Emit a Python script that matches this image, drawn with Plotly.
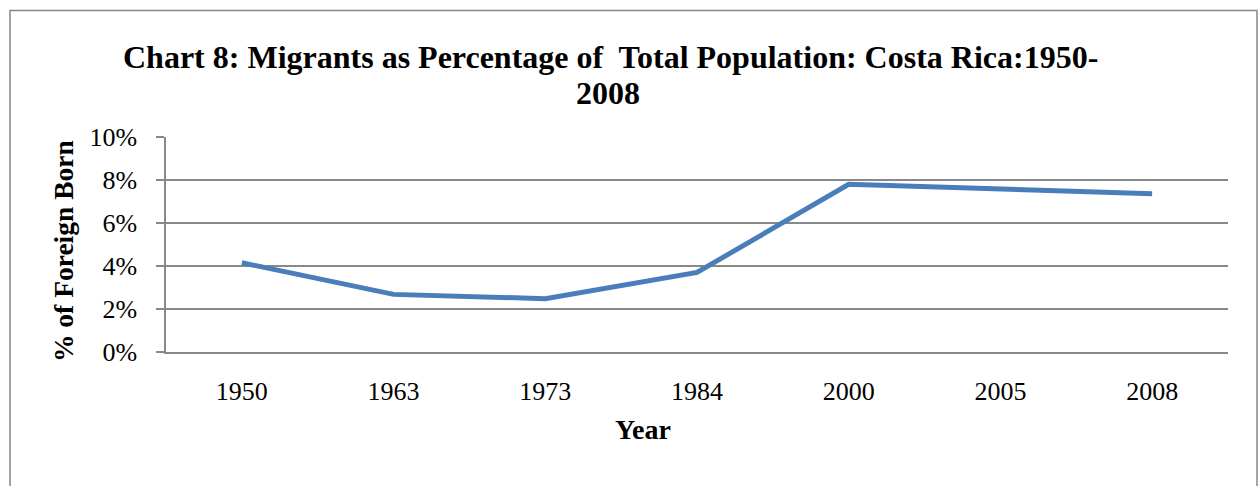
import plotly.graph_objects as go

# Foreign-born share of Costa Rica's population, by census / survey year
years = ["1950", "1963", "1973", "1984", "2000", "2005", "2008"]
pct_foreign_born = [4.15, 2.68, 2.48, 3.70, 7.80, 7.57, 7.36]
y_ticks = [0, 2, 4, 6, 8, 10]
y_tick_labels = ["0%", "2%", "4%", "6%", "8%", "10%"]

W, H = 1259, 486
L, R, T, B = 166, 1228, 137, 352  # plot area in pixels
GRID = "#888888"
FONT = "Liberation Serif"


def px_x(px):
    return (px - L) / (R - L)


def px_y(py):
    return (B - py) / (B - T)


fig = go.Figure(
    go.Scatter(
        x=years,
        y=pct_foreign_born,
        mode="lines",
        line=dict(color="#4a7ebb", width=5),
        hoverinfo="x+y",
    )
)

fig.update_layout(
    width=W,
    height=H,
    margin=dict(l=L, r=W - R, t=T, b=H - B),
    paper_bgcolor="white",
    plot_bgcolor="white",
    showlegend=False,
    font=dict(family=FONT, color="black", size=26),
    xaxis=dict(
        type="category",
        range=[-0.5, len(years) - 0.5],
        showgrid=False,
        showline=True,
        linecolor=GRID,
        linewidth=1.5,
        ticks="",
        ticklabelstandoff=15,
        tickfont=dict(family=FONT, size=26),
    ),
    yaxis=dict(
        range=[0, 10],
        tickvals=y_ticks,
        ticktext=y_tick_labels,
        showgrid=True,
        gridcolor=GRID,
        gridwidth=1.5,
        showline=True,
        linecolor=GRID,
        linewidth=1.5,
        ticks="outside",
        ticklen=8,
        tickcolor=GRID,
        tickwidth=1.5,
        ticklabelstandoff=14,
        zeroline=False,
        tickfont=dict(family=FONT, size=26),
    ),
    shapes=[
        # chart frame
        dict(
            type="rect",
            xref="paper",
            yref="paper",
            x0=px_x(10),
            x1=px_x(1257),
            y0=px_y(495),
            y1=px_y(10.5),
            line=dict(color="#878787", width=1.5),
            fillcolor="rgba(0,0,0,0)",
            layer="below",
        )
    ],
    annotations=[
        dict(
            text="<b>Chart 8: Migrants as Percentage of&nbsp; Total Population: Costa Rica:1950-</b>",
            xref="paper", yref="paper",
            x=px_x(610), y=px_y(57),
            xanchor="center", yanchor="middle",
            showarrow=False,
            font=dict(family=FONT, size=32, color="black"),
        ),
        dict(
            text="<b>2008</b>",
            xref="paper", yref="paper",
            x=px_x(608), y=px_y(93),
            xanchor="center", yanchor="middle",
            showarrow=False,
            font=dict(family=FONT, size=32, color="black"),
        ),
        dict(
            text="<b>% of Foreign Born</b>",
            xref="paper", yref="paper",
            x=px_x(63), y=px_y(251),
            xanchor="center", yanchor="middle",
            textangle=-90,
            showarrow=False,
            font=dict(family=FONT, size=27.5, color="black"),
        ),
        dict(
            text="<b>Year</b>",
            xref="paper", yref="paper",
            x=px_x(643), y=px_y(429),
            xanchor="center", yanchor="middle",
            showarrow=False,
            font=dict(family=FONT, size=28, color="black"),
        ),
    ],
)

fig.write_html("out.html")
